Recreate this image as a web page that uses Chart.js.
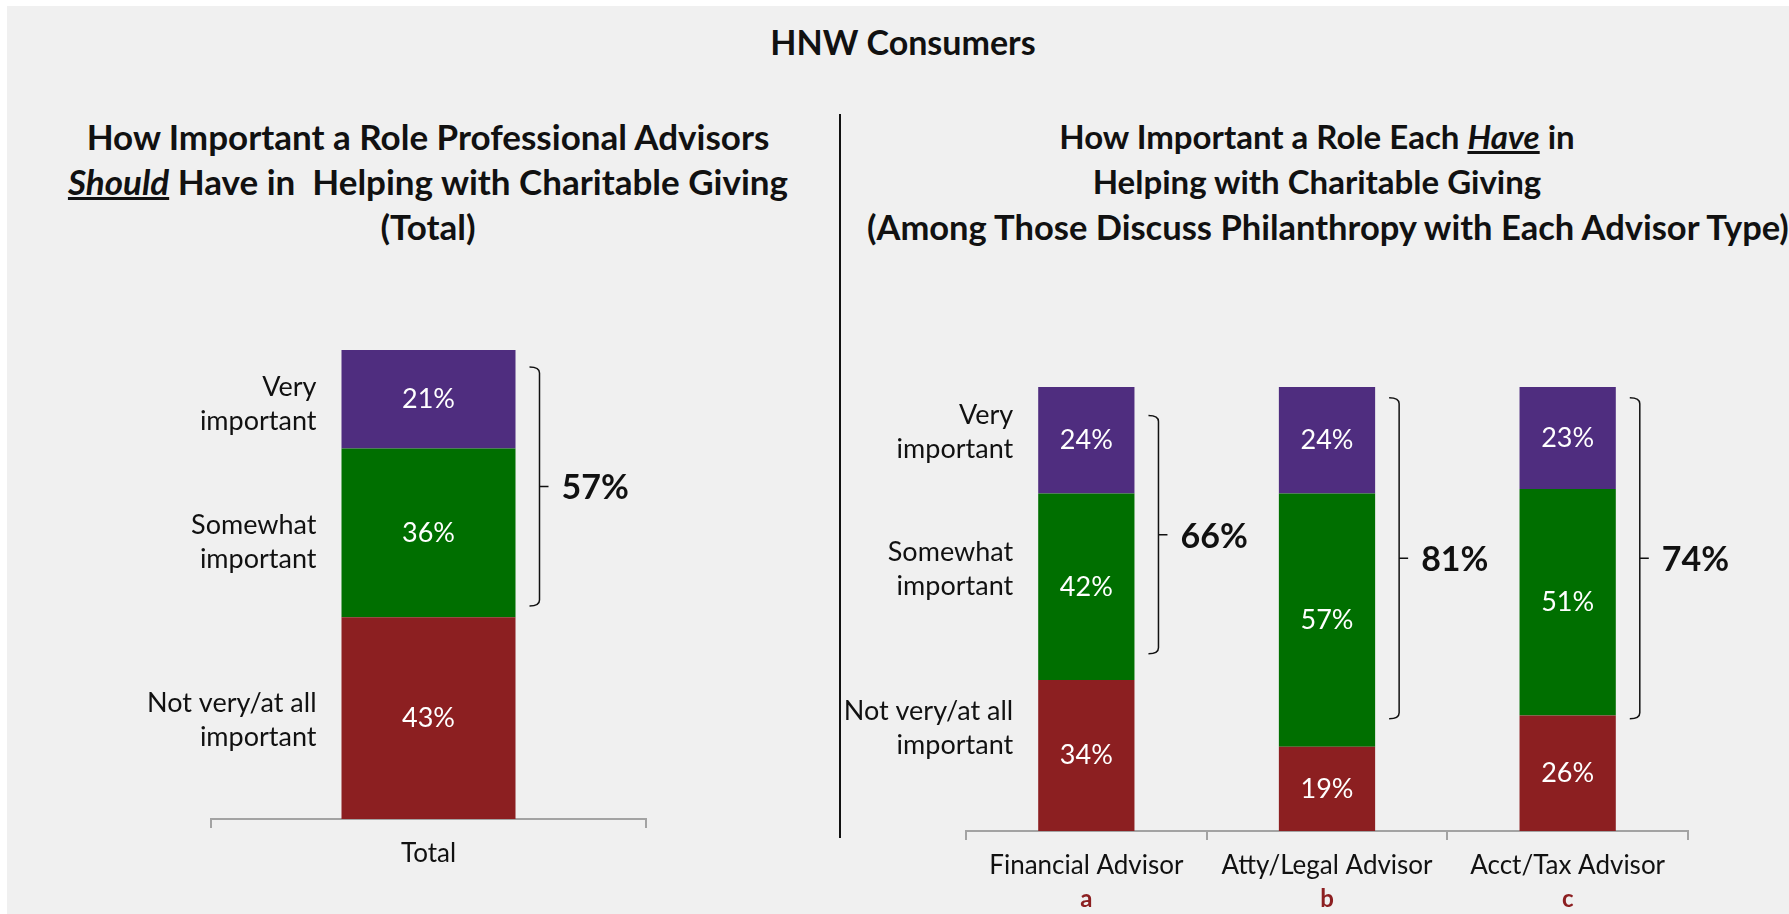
<!DOCTYPE html>
<html>
<head>
<meta charset="utf-8">
<title>HNW Consumers</title>
<script src="https://cdn.jsdelivr.net/npm/chart.js@4.4.1/dist/chart.umd.min.js"></script>
<style>
    html, body { margin: 0; padding: 0; background: #ffffff; width: 1789px; height: 914px; overflow: hidden; }
    #page { position: absolute; left: 7px; top: 6px; width: 1782px; height: 908px; background: #F0F0F0; }
    .title { position: absolute; font-family: Lato, 'Open Sans', sans-serif; font-weight: bold; color: #111; text-align: center; white-space: nowrap; }
    #mainTitle { left: 0; width: 1806px; top: 22px; font-size: 34px; line-height: 40px; }
    #leftTitle { left: 28px; width: 800px; top: 114px; font-size: 35px; line-height: 45px; }
    #rightTitle { left: 867px; width: 900px; top: 114px; font-size: 33px; line-height: 45px; }
    #rightTitle .wide { font-size: 34.5px; }
    #divider { position: absolute; left: 839px; top: 114px; width: 2px; height: 724px; background: #111; }
    canvas { position: absolute; top: 0; }
    #leftChart { left: 0; }
    #rightChart { left: 840px; }
</style>
</head>
<body>
<div id="page"></div>
<div id="mainTitle" class="title">HNW Consumers</div>
<div id="leftTitle" class="title">How Important a Role Professional Advisors<br><u><i>Should</i></u> Have in&nbsp; Helping with Charitable Giving<br>(Total)</div>
<div id="rightTitle" class="title">How Important a Role Each <u><i>Have</i></u> in<br>Helping with Charitable Giving<br><span class="wide">(Among Those Discuss Philanthropy with Each Advisor Type)</span></div>
<div id="divider"></div>
<canvas id="leftChart" width="840" height="914"></canvas>
<canvas id="rightChart" width="949" height="914"></canvas>
<script>
    // ── data ──────────────────────────────────────────────
    var seriesNames = ['Not very/at all\nimportant', 'Somewhat\nimportant', 'Very\nimportant'];

    var leftCategories = ['Total'];
    var leftNotImportant = [43];
    var leftSomewhat = [36];
    var leftVery = [21];

    var rightCategories = ['Financial Advisor', 'Atty/Legal Advisor', 'Acct/Tax Advisor'];
    var rightLetters = ['a', 'b', 'c'];
    var rightNotImportant = [34, 19, 26];
    var rightSomewhat = [42, 57, 51];
    var rightVery = [24, 24, 23];

    // bracket spans (top, bottom) in % units
    var leftBracketSpans = [[96.4, 45.4]];
    var rightBracketSpans = [[93.6, 39.9], [97.6, 25.3], [97.6, 25.3]];

    var COLORS = { not: '#8C1F21', some: '#006F00', very: '#4F2D7F', axis: '#A3A3A3', letter: '#8C1F21' };
    var FONT = "Lato, 'Open Sans', sans-serif";

    // ── plugins ───────────────────────────────────────────
    var segmentLabels = {
        id: 'segmentLabels',
        afterDatasetsDraw: function (chart) {
            var ctx = chart.ctx;
            ctx.save();
            ctx.font = '27px ' + FONT;
            ctx.fillStyle = '#ffffff';
            ctx.textAlign = 'center';
            ctx.textBaseline = 'middle';
            chart.data.datasets.forEach(function (ds, di) {
                chart.getDatasetMeta(di).data.forEach(function (bar, i) {
                    ctx.fillText(ds.data[i] + '%', bar.x, (bar.y + bar.base) / 2);
                });
            });
            ctx.restore();
        }
    };

    // series names written to the left of the first bar
    var rowLabels = {
        id: 'rowLabels',
        afterDatasetsDraw: function (chart, args, opts) {
            var ctx = chart.ctx;
            ctx.save();
            ctx.font = '27px ' + FONT;
            ctx.fillStyle = '#111';
            ctx.textAlign = 'right';
            ctx.textBaseline = 'middle';
            chart.data.datasets.forEach(function (ds, di) {
                var bar = chart.getDatasetMeta(di).data[0];
                var lines = seriesNames[di].split('\n');
                var cy = (bar.y + bar.base) / 2 + (opts.shift ? opts.shift[di] : 0);
                var x = bar.x - bar.width / 2 - 25;
                for (var k = 0; k < lines.length; k++) {
                    ctx.fillText(lines[k], x, cy + (k - (lines.length - 1) / 2) * 34);
                }
            });
            ctx.restore();
        }
    };

    // bracket + "important" total to the right of each bar
    var brackets = {
        id: 'brackets',
        afterDatasetsDraw: function (chart, args, opts) {
            var ctx = chart.ctx;
            var yScale = chart.scales.y;
            var ds = chart.data.datasets;
            var topMeta = chart.getDatasetMeta(ds.length - 1);
            ctx.save();
            ctx.strokeStyle = '#111';
            ctx.lineWidth = 1.5;
            topMeta.data.forEach(function (bar, i) {
                var span = opts.spans[i];
                var x = bar.x + bar.width / 2 + 24;
                var y1 = yScale.getPixelForValue(span[0]);
                var y2 = yScale.getPixelForValue(span[1]);
                var ym = (y1 + y2) / 2;
                ctx.beginPath();
                ctx.moveTo(x - 10, y1);
                ctx.quadraticCurveTo(x, y1, x, y1 + 6);
                ctx.lineTo(x, y2 - 6);
                ctx.quadraticCurveTo(x, y2, x - 10, y2);
                ctx.moveTo(x, ym);
                ctx.lineTo(x + 9, ym);
                ctx.stroke();
                var total = ds[1].data[i] + ds[2].data[i];
                ctx.font = 'bold 34px ' + FONT;
                ctx.fillStyle = '#111';
                ctx.textAlign = 'left';
                ctx.textBaseline = 'middle';
                ctx.fillText(total + '%', x + 22, ym + 2);
            });
            ctx.restore();
        }
    };

    // red sub-letters under the category names
    var letterLabels = {
        id: 'letterLabels',
        afterDraw: function (chart, args, opts) {
            if (!opts.letters) return;
            var ctx = chart.ctx;
            var xScale = chart.scales.x;
            ctx.save();
            ctx.font = 'bold 24px ' + FONT;
            ctx.fillStyle = COLORS.letter;
            ctx.textAlign = 'center';
            ctx.textBaseline = 'middle';
            opts.letters.forEach(function (l, i) {
                ctx.fillText(l, xScale.getPixelForTick(i), xScale.top + 68);
            });
            ctx.restore();
        }
    };

    function makeChart(id, categories, notImp, some, very, spans, letters, labelShift, pad, axisHeight) {
        return new Chart(document.getElementById(id).getContext('2d'), {
            type: 'bar',
            data: {
                labels: categories,
                datasets: [
                    { label: 'Not very/at all important', data: notImp, backgroundColor: COLORS.not },
                    { label: 'Somewhat important', data: some, backgroundColor: COLORS.some },
                    { label: 'Very important', data: very, backgroundColor: COLORS.very }
                ]
            },
            options: {
                responsive: false,
                animation: false,
                devicePixelRatio: 1,
                categoryPercentage: 1,
                barPercentage: 0.4,
                layout: { padding: pad },
                plugins: {
                    legend: { display: false },
                    tooltip: { enabled: false },
                    title: { display: false },
                    brackets: { spans: spans },
                    letterLabels: { letters: letters },
                    rowLabels: { shift: labelShift }
                },
                scales: {
                    x: {
                        stacked: true,
                        offset: true,
                        grid: { display: true, drawOnChartArea: false, drawTicks: true, tickLength: 9, color: COLORS.axis, lineWidth: 2, offset: true },
                        border: { display: true, color: COLORS.axis, width: 2 },
                        ticks: { color: '#111', font: { family: FONT, size: 26 }, padding: 10, maxRotation: 0, autoSkip: false },
                        afterFit: function (scale) { scale.height = axisHeight; }
                    },
                    y: {
                        stacked: true,
                        display: false,
                        min: 0,
                        max: 100
                    }
                }
            },
            plugins: [segmentLabels, rowLabels, brackets, letterLabels]
        });
    }

    makeChart('leftChart', leftCategories, leftNotImportant, leftSomewhat, leftVery,
        leftBracketSpans, null, [2, 9, 5], { left: 211, right: 194, top: 350, bottom: 0 }, 95);
    makeChart('rightChart', rightCategories, rightNotImportant, rightSomewhat, rightVery,
        rightBracketSpans, rightLetters, [-27, -18, -8], { left: 126, right: 101, top: 387, bottom: 0 }, 83);
</script>
</body>
</html>
